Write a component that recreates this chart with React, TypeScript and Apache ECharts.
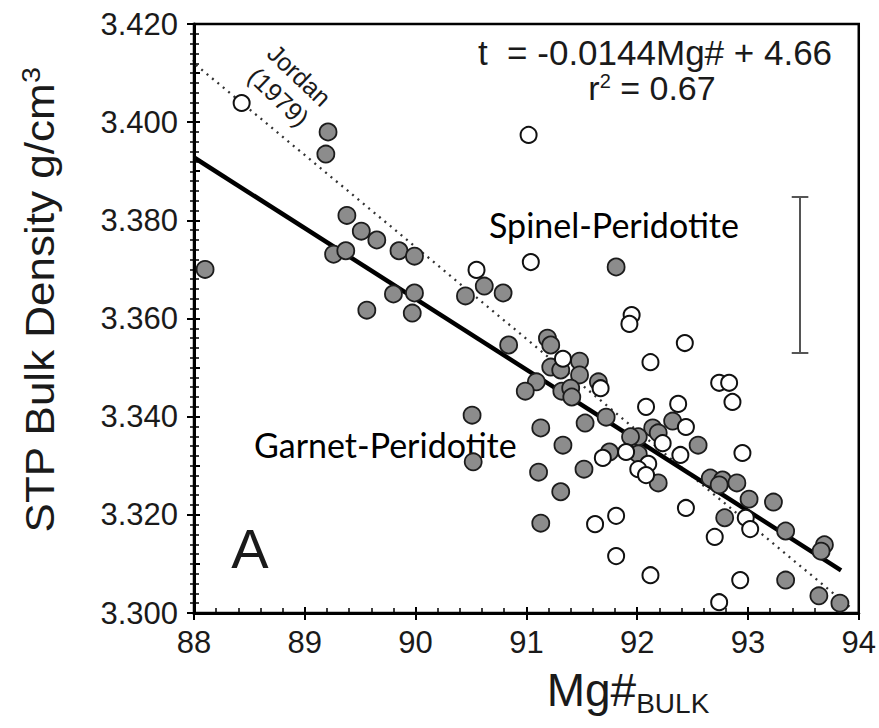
import React, { useEffect, useRef } from "react";
import * as echarts from "echarts";

const xTicks = [88, 89, 90, 91, 92, 93, 94];
const yTickLabels = ["3.300", "3.320", "3.340", "3.360", "3.380", "3.400", "3.420"];

const filledMg = [88.10, 89.21, 89.19, 89.38, 89.51, 89.65, 89.26, 89.37, 89.85, 89.99, 89.80, 89.99, 89.56, 89.97, 90.45, 90.62, 90.79, 90.84, 91.19, 91.22, 91.48, 91.22, 91.31, 91.48, 91.09, 90.99, 91.32, 91.40, 91.41, 91.65, 91.53, 91.72, 91.13, 91.33, 90.51, 90.52, 91.11, 91.52, 91.31, 91.13, 92.32, 92.55, 92.14, 92.19, 92.01, 91.94, 91.75, 92.01, 92.19, 92.66, 92.77, 92.74, 92.90, 93.01, 93.23, 92.79, 93.34, 93.69, 93.66, 93.34, 93.64, 93.83, 91.81];
const filledDensity = [3.3700, 3.3980, 3.3935, 3.3810, 3.3778, 3.3760, 3.3731, 3.3738, 3.3738, 3.3727, 3.3650, 3.3652, 3.3617, 3.3611, 3.3646, 3.3666, 3.3652, 3.3546, 3.3560, 3.3546, 3.3513, 3.3501, 3.3495, 3.3485, 3.3471, 3.3452, 3.3452, 3.3458, 3.3440, 3.3471, 3.3387, 3.3399, 3.3377, 3.3342, 3.3403, 3.3308, 3.3287, 3.3293, 3.3247, 3.3183, 3.3391, 3.3342, 3.3377, 3.3367, 3.3359, 3.3359, 3.3328, 3.3324, 3.3265, 3.3275, 3.3271, 3.3261, 3.3265, 3.3232, 3.3226, 3.3194, 3.3167, 3.3139, 3.3126, 3.3067, 3.3035, 3.3020, 3.3705];

const openMg = [88.43, 91.02, 90.55, 91.04, 91.95, 91.93, 92.43, 92.12, 91.33, 91.67, 92.74, 92.83, 92.86, 92.08, 92.37, 92.44, 92.23, 91.90, 91.69, 92.39, 92.10, 92.01, 92.08, 92.95, 92.98, 93.02, 92.44, 92.70, 91.62, 91.81, 91.81, 92.12, 92.93, 92.74];
const openDensity = [3.4039, 3.3974, 3.3699, 3.3715, 3.3607, 3.3589, 3.3550, 3.3511, 3.3518, 3.3458, 3.3469, 3.3469, 3.3430, 3.3420, 3.3426, 3.3379, 3.3346, 3.3328, 3.3316, 3.3322, 3.3304, 3.3293, 3.3281, 3.3326, 3.3194, 3.3171, 3.3214, 3.3155, 3.3181, 3.3198, 3.3116, 3.3077, 3.3067, 3.3022];

// regression: t = -0.0144 Mg# + 4.66
const fitMg = [88.0, 93.84];
const fitDensity = [3.3928, 3.3087];
// Jordan (1979)
const jordanMg = [87.92, 93.92];
const jordanDensity = [3.4135, 3.3012];
// error bar
const errMg = 93.47;
const errTop = 3.3848;
const errBottom = 3.3530;
const errCap = 0.075;

export default function App() {
  const ref = useRef<HTMLDivElement>(null);
  useEffect(() => {
    document.body.style.margin = "0";
    const chart = echarts.init(ref.current!, null, { renderer: "svg" });
    const tickFont = "'Liberation Sans Narrow', 'Liberation Sans', Arial, sans-serif";
    const arial = "'Liberation Sans', Arial, sans-serif";
    const grid = { left: 194, right: 17, top: 24, bottom: 115, show: true, borderColor: "#000", borderWidth: 2.5, backgroundColor: "transparent" };
    chart.setOption({
      animation: false,
      backgroundColor: "#fff",
      grid,
      xAxis: [
        {
          type: "value", min: 88, max: 94, interval: 1,
          axisLine: { show: true, lineStyle: { color: "#000", width: 3 } },
          axisTick: { show: true, inside: false, length: 7, lineStyle: { color: "#000", width: 2 } },
          minorTick: { show: false },
          splitLine: { show: false },
          axisLabel: { color: "#1a1a1a", fontFamily: tickFont, fontSize: 31, margin: 14, formatter: (v: number) => (xTicks.includes(v) ? String(v) : "") },
        },
        {
          type: "value", min: 88, max: 94, interval: 1, position: "bottom",
          axisLine: { show: false },
          axisTick: { show: true, inside: true, length: 6, lineStyle: { color: "#000", width: 2 } },
          minorTick: { show: true, splitNumber: 5, length: 5, lineStyle: { color: "#000", width: 1.5 } },
          splitLine: { show: false },
          axisLabel: { show: false },
        },
      ],
      yAxis: [
        {
          type: "value", min: 3.3, max: 3.42, interval: 0.02,
          axisLine: { show: true, lineStyle: { color: "#000", width: 3 } },
          axisTick: { show: true, inside: false, length: 7, lineStyle: { color: "#000", width: 2 } },
          minorTick: { show: true, splitNumber: 10, length: 4, lineStyle: { color: "#000", width: 1.5 } },
          splitLine: { show: false },
          axisLabel: {
            color: "#1a1a1a", fontFamily: tickFont, fontSize: 31, margin: 16,
            formatter: (v: number) => {
              const s = v.toFixed(3);
              return yTickLabels.includes(s) ? s : "";
            },
          },
        },
        {
          type: "value", min: 3.3, max: 3.42, interval: 0.01, position: "left",
          axisLine: { show: false },
          axisTick: { show: true, inside: true, length: 6, lineStyle: { color: "#000", width: 2 } },
          minorTick: { show: true, splitNumber: 5, length: 5, lineStyle: { color: "#000", width: 1.5 } },
          splitLine: { show: false },
          axisLabel: { show: false },
        },
      ],
      series: [
        {
          type: "line", data: jordanMg.map((x, i) => [x, jordanDensity[i]]), symbol: "none",
          lineStyle: { color: "#333", width: 2.3, type: [2, 5] }, clip: false, z: 2,
        },
        {
          type: "line", data: fitMg.map((x, i) => [x, fitDensity[i]]), symbol: "none",
          lineStyle: { color: "#000", width: 4.5 }, z: 3,
        },
        {
          type: "lines", coordinateSystem: "cartesian2d", z: 3,
          lineStyle: { color: "#555", width: 2, opacity: 1 },
          data: [
            { coords: [[errMg, errTop], [errMg, errBottom]] },
            { coords: [[errMg - errCap, errTop], [errMg + errCap, errTop]] },
            { coords: [[errMg - errCap, errBottom], [errMg + errCap, errBottom]] },
          ],
        },
        {
          type: "scatter", data: filledMg.map((x, i) => [x, filledDensity[i]]), symbol: "circle", symbolSize: 17, z: 4,
          itemStyle: { color: "#8c8c8c", borderColor: "#1c1c1c", borderWidth: 1.8, opacity: 1 },
        },
        {
          type: "scatter", data: openMg.map((x, i) => [x, openDensity[i]]), symbol: "circle", symbolSize: 16, z: 5,
          itemStyle: { color: "#fff", borderColor: "#111", borderWidth: 2, opacity: 1 },
        },
      ],
      graphic: [
        {
          type: "text", x: 40, y: 300, rotation: Math.PI / 2, scaleX: 1.1,
          style: {
            text: "{a|STP Bulk Density g/cm}{b|3}", align: "center", verticalAlign: "middle",
            rich: {
              a: { fontFamily: arial, fontSize: 40, fill: "#1a1a1a" },
              b: { fontFamily: arial, fontSize: 26, fill: "#1a1a1a", verticalAlign: "top", padding: [0, 0, 18, 0] },
            },
          },
        },
        {
          type: "text", x: 628, y: 690,
          style: {
            text: "{a|Mg#}{b|BULK}", align: "center", verticalAlign: "middle",
            rich: {
              a: { fontFamily: arial, fontSize: 46, fill: "#1a1a1a" },
              b: { fontFamily: arial, fontSize: 28, fill: "#1a1a1a", padding: [26, 0, 0, 0] },
            },
          },
        },
        {
          type: "text", x: 655, y: 52,
          style: { text: "t  = -0.0144Mg# + 4.66", align: "center", verticalAlign: "middle", fontFamily: arial, fontSize: 35, fill: "#1a1a1a" },
        },
        {
          type: "text", x: 652, y: 88,
          style: {
            text: "{a|r}{b|2}{a| = 0.67}", align: "center", verticalAlign: "middle",
            rich: {
              a: { fontFamily: arial, fontSize: 34, fill: "#1a1a1a" },
              b: { fontFamily: arial, fontSize: 20, fill: "#1a1a1a", padding: [0, 0, 14, 0] },
            },
          },
        },
        {
          type: "text", x: 489, y: 224,
          style: { text: "Spinel-Peridotite", align: "left", verticalAlign: "middle", fontFamily: "Lato, 'Open Sans', sans-serif", fontSize: 34, fill: "#000" },
        },
        {
          type: "text", x: 254, y: 444,
          style: { text: "Garnet-Peridotite", align: "left", verticalAlign: "middle", fontFamily: "Lato, 'Open Sans', sans-serif", fontSize: 34, fill: "#000" },
        },
        {
          type: "text", x: 250, y: 548,
          style: { text: "A", align: "center", verticalAlign: "middle", fontFamily: arial, fontSize: 56, fill: "#1a1a1a" },
        },
        {
          type: "text", x: 289, y: 86, rotation: -0.76,
          style: { text: "Jordan\n(1979)", align: "center", verticalAlign: "middle", fontFamily: arial, fontSize: 25, lineHeight: 30, fill: "#1a1a1a" },
        },
      ],
    });
    return () => chart.dispose();
  }, []);
  return <div ref={ref} style={{ width: 879, height: 728 }} />;
}
